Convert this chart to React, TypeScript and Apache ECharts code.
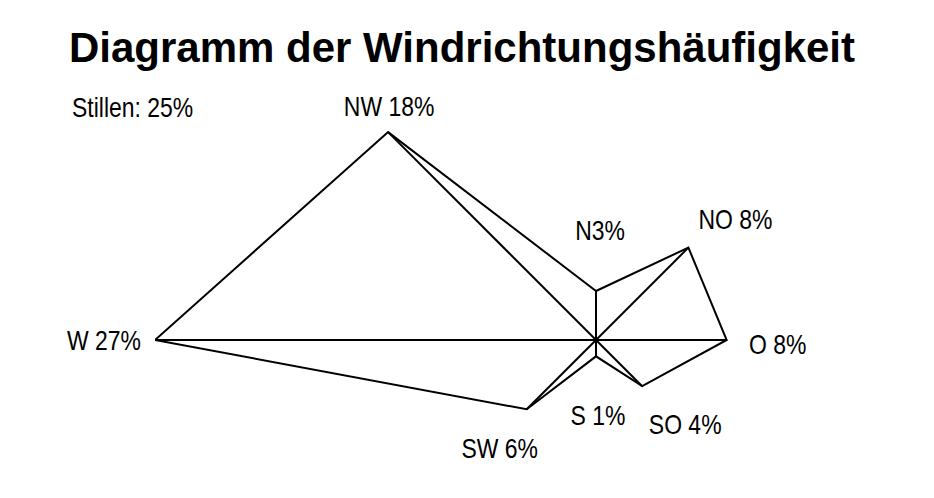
import React, { useEffect, useRef } from "react";
import * as echarts from "echarts";

const directions = ["N", "NO", "O", "SO", "S", "SW", "W", "NW"];
const directionAngles = [0, 45, 90, 135, 180, 225, 270, 315];
const frequencies = [3, 8, 8, 4, 1, 6, 27, 18];
const labelTexts = ["N3%", "NO 8%", "O 8%", "SO 4%", "S 1%", "SW 6%", "W 27%", "NW 18%"];
const calmText = "Stillen: 25%";
const titleText = "Diagramm der Windrichtungshäufigkeit";

// label offsets (pixels) from each vertex
const labelOffsets: number[][] = [
  [4, -61],
  [47, -28],
  [51, 4],
  [43, 38],
  [2, 59],
  [-27, 39],
  [-51, 0],
  [1, -26],
];

const lineStyle = { color: "#000", width: 2, join: "miter" as const };
const narrow = 0.82;

export default function App() {
  const ref = useRef<HTMLDivElement>(null);
  useEffect(() => {
    if (!ref.current) return;
    const chart = echarts.init(ref.current, null, { renderer: "svg" });
    const polygon = frequencies.map((v, i) => [v, directionAngles[i]]);
    polygon.push([frequencies[0], directionAngles[0] + 360]);
    const spokes = frequencies.map((v, i) => ({
      type: "line",
      name: directions[i],
      coordinateSystem: "polar",
      clip: false,
      data: [
        [0, directionAngles[i]],
        [v, directionAngles[i]],
      ],
      symbol: "none",
      lineStyle: { ...lineStyle },
      silent: true,
    }));
    chart.setOption({
      animation: false,
      backgroundColor: "#fff",
      polar: { center: [596, 340], radius: 441 },
      angleAxis: {
        type: "value",
        min: 0,
        max: 360,
        startAngle: 90,
        clockwise: true,
        axisLine: { show: false },
        axisTick: { show: false },
        axisLabel: { show: false },
        splitLine: { show: false },
        splitArea: { show: false },
      },
      radiusAxis: {
        type: "value",
        min: 0,
        max: 27,
        axisLine: { show: false },
        axisTick: { show: false },
        axisLabel: { show: false },
        splitLine: { show: false },
        splitArea: { show: false },
      },
      series: [
        ...spokes,
        {
          type: "line",
          coordinateSystem: "polar",
          clip: false,
          data: polygon,
          symbol: "none",
          lineStyle: { ...lineStyle },
          silent: true,
        },
      ],
    });

    const polySeriesIndex = spokes.length;
    const labelGraphics = frequencies.map((v, i) => {
      const p = chart.convertToPixel({ seriesIndex: polySeriesIndex }, [v, directionAngles[i]]) as number[];
      return {
        type: "text",
        x: p[0] + labelOffsets[i][0],
        y: p[1] + labelOffsets[i][1],
        scaleX: narrow,
        silent: true,
        style: {
          text: labelTexts[i],
          fontFamily: "Liberation Sans",
          fontSize: 28,
          fill: "#000",
          align: "center",
          verticalAlign: "middle",
        },
      };
    });

    chart.setOption({
      graphic: [
        {
          type: "text",
          x: 462,
          y: 47,
          silent: true,
          style: {
            text: titleText,
            fontFamily: "Liberation Sans",
            fontWeight: "bold",
            fontSize: 42,
            fill: "#000",
            align: "center",
            verticalAlign: "middle",
          },
        },
        {
          type: "text",
          x: 72,
          y: 107,
          scaleX: narrow,
          silent: true,
          style: {
            text: calmText,
            fontFamily: "Liberation Sans",
            fontSize: 28,
            fill: "#000",
            align: "left",
            verticalAlign: "middle",
          },
        },
        ...labelGraphics,
      ],
    });
    return () => chart.dispose();
  }, []);
  return (
    <div
      ref={ref}
      style={{ position: "fixed", left: 0, top: 0, width: 934, height: 498 }}
    />
  );
}
